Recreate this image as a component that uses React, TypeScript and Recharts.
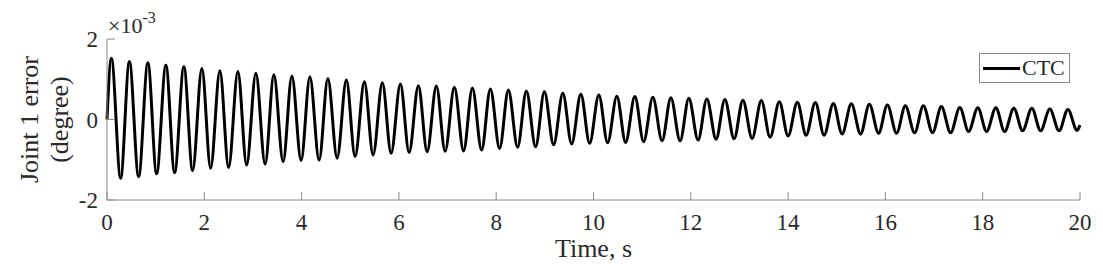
import React from 'react';
import { LineChart, Line, XAxis, YAxis, Legend, Label } from 'recharts';

// Values in units of 1e-3 degree
const startPoint = { t: 0, v: 0 };
const endPoint = { t: 20, v: -0.14 };

const peakTimes = [
  0.09, 0.46, 0.84, 1.21, 1.58, 1.95, 2.32, 2.69, 3.06, 3.43,
  3.80, 4.17, 4.54, 4.92, 5.29, 5.66, 6.03, 6.40, 6.77, 7.14,
  7.51, 7.88, 8.25, 8.62, 8.99, 9.37, 9.74, 10.11, 10.48, 10.85,
  11.22, 11.59, 11.96, 12.33, 12.70, 13.07, 13.45, 13.82, 14.19, 14.56,
  14.93, 15.30, 15.67, 16.04, 16.41, 16.78, 17.15, 17.53, 17.90, 18.27,
  18.64, 19.01, 19.38, 19.75,
];
const peakValues = [
  1.52, 1.44, 1.41, 1.35, 1.31, 1.27, 1.21, 1.19, 1.15,
  1.11, 1.08, 1.06, 1.02, 0.98, 0.94, 0.91, 0.88, 0.84,
  0.83, 0.80, 0.78, 0.76, 0.73, 0.71, 0.69, 0.65, 0.63,
  0.61, 0.58, 0.57, 0.55, 0.54, 0.53, 0.51, 0.50, 0.48, 0.47,
  0.44, 0.43, 0.42, 0.40, 0.39, 0.38, 0.36, 0.34, 0.34,
  0.32, 0.30, 0.29, 0.29, 0.28, 0.28, 0.26, 0.25,
];
const troughTimes = [
  0.28, 0.65, 1.02, 1.39, 1.76, 2.13, 2.50, 2.87, 3.25, 3.62,
  3.99, 4.36, 4.73, 5.10, 5.47, 5.84, 6.21, 6.58, 6.95, 7.33,
  7.70, 8.07, 8.44, 8.81, 9.18, 9.55, 9.92, 10.29, 10.66, 11.03,
  11.41, 11.78, 12.15, 12.52, 12.89, 13.26, 13.63, 14.00, 14.37, 14.74,
  15.11, 15.49, 15.86, 16.23, 16.60, 16.97, 17.34, 17.71, 18.08, 18.45,
  18.82, 19.19, 19.57, 19.94,
];
const troughValues = [
  -1.46, -1.42, -1.35, -1.32, -1.27, -1.21, -1.19, -1.13, -1.11,
  -1.05, -1.02, -1.01, -0.96, -0.92, -0.88, -0.84, -0.82, -0.80,
  -0.79, -0.78, -0.76, -0.72, -0.69, -0.68, -0.63, -0.61, -0.59,
  -0.58, -0.57, -0.55, -0.53, -0.53, -0.51, -0.49, -0.48, -0.47,
  -0.44, -0.41, -0.39, -0.39, -0.36, -0.36, -0.34, -0.34, -0.33,
  -0.33, -0.33, -0.30, -0.30, -0.30, -0.28, -0.28, -0.28, -0.27,
];

const xTicks = [0, 2, 4, 6, 8, 10, 12, 14, 16, 18, 20];
const yTicks = [-2, 0, 2];
const seriesName = 'CTC';

const data: { t: number; v: number }[] = [startPoint];
peakTimes.forEach((t, i) => {
  data.push({ t, v: peakValues[i] });
  data.push({ t: troughTimes[i], v: troughValues[i] });
});
data.push(endPoint);

const FONT = "'Liberation Serif', 'Times New Roman', serif";
const AXIS = '#8a8a8a';
const TXT = '#2a2a2a';

const XTick = (props: any) => {
  const { x, y, payload } = props;
  return (
    <g>
      <line x1={x} x2={x} y1={y} y2={y - 8} stroke={AXIS} strokeWidth={1} />
      <text x={x} y={y + 30} textAnchor="middle" fontFamily={FONT} fontSize={23} fill={TXT}>
        {payload.value}
      </text>
    </g>
  );
};

const YTick = (props: any) => {
  const { x, y, payload } = props;
  return (
    <g>
      <line x1={x} x2={x + 8} y1={y} y2={y} stroke={AXIS} strokeWidth={1} />
      <text x={x - 9} y={y} dy="0.36em" textAnchor="end" fontFamily={FONT} fontSize={23} fill={TXT}>
        {payload.value}
      </text>
    </g>
  );
};

const LegendBox = (props: any) => {
  const item = props.payload && props.payload[0];
  return (
    <div
      style={{
        boxSizing: 'border-box',
        width: 91,
        height: 30,
        border: `1px solid ${AXIS}`,
        background: '#fff',
        display: 'flex',
        alignItems: 'center',
        paddingLeft: 3,
      }}
    >
      <div style={{ width: 37, height: 0, borderTop: `3px solid ${item ? item.color : '#000'}` }} />
      <span style={{ marginLeft: 2, fontFamily: FONT, fontSize: 22, color: TXT, lineHeight: '22px' }}>
        {item ? item.value : seriesName}
      </span>
    </div>
  );
};

export default function App() {
  return (
    <LineChart
      width={1095}
      height={259}
      data={data}
      margin={{ top: 31, right: 23, bottom: 37, left: 39 }}
    >
      <XAxis
        dataKey="t"
        type="number"
        domain={[0, 20]}
        ticks={xTicks}
        interval={0}
        height={30}
        tickSize={0}
        tickMargin={0}
        tickLine={false}
        axisLine={{ stroke: AXIS }}
        tick={<XTick />}
      >
        <Label
          content={(p: any) => {
            const vb = p.viewBox;
            return (
              <text
                x={vb.x + vb.width / 2}
                y={vb.y + 57}
                textAnchor="middle"
                fontFamily={FONT}
                fontSize={26}
                fill={TXT}
              >
                Time, s
              </text>
            );
          }}
        />
      </XAxis>
      <XAxis
        xAxisId="top"
        orientation="top"
        mirror
        type="number"
        dataKey="t"
        domain={[0, 20]}
        ticks={xTicks}
        interval={0}
        height={0}
        tick={false}
        tickSize={8}
        tickLine={{ stroke: AXIS }}
        axisLine={{ stroke: AXIS }}
      />
      <YAxis
        type="number"
        domain={[-2, 2]}
        ticks={yTicks}
        interval={0}
        width={60}
        tickSize={0}
        tickMargin={0}
        tickLine={false}
        axisLine={{ stroke: AXIS }}
        tick={<YTick />}
      >
        <Label
          content={(p: any) => {
            const vb = p.viewBox;
            const cy = vb.y + vb.height / 2;
            return (
              <g>
                <text
                  x={30}
                  y={cy}
                  transform={`rotate(-90, 30, ${cy})`}
                  textAnchor="middle"
                  fontFamily={FONT}
                  fontSize={26}
                  fill={TXT}
                >
                  Joint 1 error
                </text>
                <text
                  x={60}
                  y={cy}
                  transform={`rotate(-90, 60, ${cy})`}
                  textAnchor="middle"
                  fontFamily={FONT}
                  fontSize={26}
                  fill={TXT}
                >
                  (degree)
                </text>
              </g>
            );
          }}
        />
        <Label
          content={(p: any) => {
            const vb = p.viewBox;
            const px = vb.x + vb.width + 1;
            const py = vb.y - 6;
            return (
              <text x={px} y={py} fontFamily={FONT} fontSize={22} fill={TXT}>
                <tspan>×10</tspan>
                <tspan dy={-10} fontSize={16}>-3</tspan>
              </text>
            );
          }}
        />
      </YAxis>
      <YAxis
        yAxisId="right"
        orientation="right"
        mirror
        type="number"
        domain={[-2, 2]}
        ticks={yTicks}
        interval={0}
        width={0}
        tick={false}
        tickSize={8}
        tickLine={{ stroke: AXIS }}
        axisLine={{ stroke: AXIS }}
      />
      <Legend
        layout="horizontal"
        verticalAlign="middle"
        align="center"
        content={<LegendBox />}
        wrapperStyle={{ position: 'absolute', left: 971, top: 45, width: 91, height: 30 }}
      />
      <Line
        name={seriesName}
        dataKey="v"
        type="monotone"
        stroke="#000"
        strokeWidth={3}
        dot={false}
        activeDot={false}
        isAnimationActive={false}
      />
    </LineChart>
  );
}
